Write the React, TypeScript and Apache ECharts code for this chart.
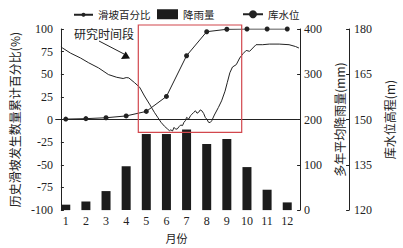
import React, { useEffect, useRef } from 'react';
import * as echarts from 'echarts';

const months = ['1', '2', '3', '4', '5', '6', '7', '8', '9', '10', '11', '12'];
const rainfall = [12, 19, 42, 97, 168, 168, 178, 146, 157, 95, 45, 17];
const slidePercent = [0.5, 1, 2, 4, 9, 25.5, 70.5, 97, 99.7, 100, 100, 100];
const levelMonth = [
  0.76, 0.84, 1.24, 1.73, 2.14, 2.63, 3.12, 3.53, 3.85, 4.0, 4.13, 4.42, 4.67, 4.91, 5.16, 5.4,
  5.58, 5.73, 5.9, 6.05, 6.15, 6.22, 6.3, 6.38, 6.46, 6.54, 6.62, 6.71, 6.8, 6.87, 6.94, 7.0,
  7.11, 7.2, 7.27, 7.36, 7.44, 7.52, 7.6, 7.68, 7.76, 7.85, 7.93, 8.02, 8.09, 8.17, 8.25, 8.38,
  8.58, 8.74, 8.91, 9.02, 9.15, 9.28, 9.47, 9.64, 9.8, 9.96, 10.13, 10.29, 10.45, 10.78, 11.11,
  11.6, 12.09, 12.41, 12.58,
];
const levelValue = [
  174.1, 173.7, 172.0, 170.4, 168.8, 167.1, 164.9, 164.0, 163.6, 163.9, 163.8, 162.2, 160.7,
  157.8, 155.1, 152.4, 150.6, 149.1, 147.8, 146.9, 146.3, 146.6, 146.2, 147.4, 146.8, 146.9,
  147.6, 148.2, 148.0, 149.1, 149.6, 150.7, 150.2, 151.3, 151.8, 152.4, 152.9, 152.1, 152.4,
  153.2, 152.9, 152.0, 150.7, 150.0, 149.1, 149.0, 149.6, 151.5, 154.0, 156.2, 159.4, 162.2,
  165.5, 167.4, 168.2, 170.4, 171.8, 172.9, 172.6, 173.7, 174.8, 174.8, 175.0, 175.0, 174.8,
  174.2, 173.7,
];

const SERIF = '"Liberation Serif", "Noto Sans CJK SC", serif';
const CJK = '"Noto Sans CJK SC", "Liberation Serif", sans-serif';
const INK = '#222';

export default function App() {
  const ref = useRef<HTMLDivElement>(null);
  useEffect(() => {
    if (!ref.current) return;
    const chart = echarts.init(ref.current, undefined, { renderer: 'svg' });
    const levelData = levelMonth.map((m, i) => [m, levelValue[i]]);
    const yBase = {
      type: 'value',
      splitLine: { show: false },
      axisLine: { show: true, lineStyle: { color: INK, width: 1 } },
      axisTick: { show: true, inside: true, length: 3, lineStyle: { color: INK } },
      nameLocation: 'middle',
      nameRotate: 90,
      nameTextStyle: { fontSize: 12, color: INK, fontFamily: CJK },
    };
    const legendText = { fontSize: 10.5, color: INK, fontFamily: CJK };
    chart.setOption({
      animation: false,
      backgroundColor: '#fff',
      textStyle: { fontFamily: SERIF },
      grid: { left: 54.77, right: 102.8, top: 29, bottom: 36 },
      legend: [
        {
          data: ['滑坡百分比'],
          left: 68,
          top: 4.5,
          itemWidth: 19,
          itemHeight: 5,
          textStyle: legendText,
        },
        {
          data: [{ name: '降雨量', icon: 'rect' }],
          left: 152,
          top: 4,
          itemWidth: 21,
          itemHeight: 10,
          textStyle: legendText,
        },
        {
          data: ['库水位'],
          left: 237,
          top: 4,
          itemWidth: 20,
          itemHeight: 10,
          textStyle: legendText,
        },
      ],
      xAxis: [
        {
          type: 'category',
          data: months,
          boundaryGap: true,
          axisLine: { lineStyle: { color: INK, width: 1 } },
          axisTick: { show: false },
          axisLabel: { fontSize: 12, color: INK, fontFamily: SERIF, margin: 5 },
          name: '月份',
          nameLocation: 'middle',
          nameGap: 19,
          nameTextStyle: { fontSize: 11, color: INK, fontFamily: CJK },
        },
        { type: 'value', min: 0.5, max: 12.5, show: false },
      ],
      yAxis: [
        {
          ...yBase,
          min: -100,
          max: 100,
          interval: 25,
          position: 'left',
          offset: -5.2,
          axisLabel: { fontSize: 12, color: INK, fontFamily: SERIF, margin: 8 },
          name: '历史滑坡发生数量累计百分比(%)',
          nameGap: 34,
        },
        {
          ...yBase,
          min: 0,
          max: 400,
          interval: 100,
          position: 'right',
          offset: 2.8,
          axisLabel: { fontSize: 12, color: INK, fontFamily: SERIF, margin: 4 },
          name: '多年平均降雨量(mm)',
          nameGap: 27,
        },
        {
          ...yBase,
          min: 120,
          max: 180,
          interval: 15,
          position: 'right',
          offset: 51.8,
          axisLabel: { fontSize: 12, color: INK, fontFamily: SERIF, margin: 5 },
          name: '库水位高程(m)',
          nameGap: 28,
        },
      ],
      series: [
        {
          name: '降雨量',
          type: 'bar',
          xAxisIndex: 0,
          yAxisIndex: 1,
          data: rainfall,
          barWidth: 9,
          itemStyle: { color: '#1c1c1c' },
        },
        {
          name: '滑坡百分比',
          type: 'line',
          xAxisIndex: 0,
          yAxisIndex: 0,
          data: slidePercent,
          symbol: 'circle',
          symbolSize: 5,
          lineStyle: { color: INK, width: 1 },
          itemStyle: { color: INK },
          z: 4,
        },
        {
          name: '库水位',
          type: 'line',
          xAxisIndex: 1,
          yAxisIndex: 2,
          data: levelData,
          symbol: 'none',
          showSymbol: false,
          lineStyle: { color: INK, width: 1 },
          itemStyle: { color: INK },
          z: 3,
        },
      ],
      graphic: [
        {
          type: 'rect',
          shape: { x: 138.3, y: 25, width: 103.4, height: 107.3 },
          style: { fill: 'none', stroke: '#d2474d', lineWidth: 1.2 },
          z: 10,
        },
        {
          type: 'text',
          x: 104,
          y: 33,
          style: {
            text: '研究时间段',
            fontSize: 12,
            fontFamily: CJK,
            fill: INK,
            align: 'center',
            verticalAlign: 'middle',
          },
          z: 10,
        },
        {
          type: 'line',
          shape: { x1: 99, y1: 41, x2: 124, y2: 54 },
          style: { stroke: INK, lineWidth: 1 },
          z: 10,
        },
        {
          type: 'polygon',
          shape: { points: [[121, 59], [130, 58.5], [125.7, 51.5]] },
          style: { fill: '#111' },
          z: 10,
        },
      ],
    });
    return () => chart.dispose();
  }, []);
  return (
    <div
      ref={ref}
      style={{ position: 'fixed', left: 0, top: 0, width: 403, height: 248, background: '#fff' }}
    />
  );
}
